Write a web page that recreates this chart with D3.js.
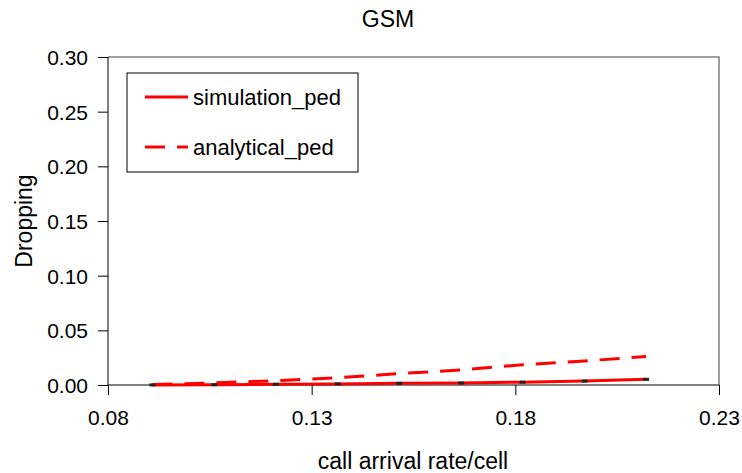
<!DOCTYPE html>
<html>
<head>
<meta charset="utf-8">
<script src="https://cdn.jsdelivr.net/npm/d3@7"></script>
<style>
  body { margin: 0; background: #fff; }
  text { font-family: "Liberation Sans", Arial, sans-serif; fill: #000; }
</style>
</head>
<body>
<script>
// call arrival rate per cell (x values)
var rates = [0.0909, 0.1061, 0.1212, 0.1364, 0.1515, 0.1667, 0.1818, 0.1970, 0.2121];
var simulationPed = [0.0001, 0.0003, 0.0006, 0.0010, 0.0015, 0.0018, 0.0026, 0.0036, 0.0052];
var analyticalPed = [0.0005, 0.0019, 0.0040, 0.0066, 0.0104, 0.0138, 0.0185, 0.0220, 0.0260];
var xTicks = [0.08, 0.13, 0.18, 0.23];
var yTicks = [0, 0.05, 0.10, 0.15, 0.20, 0.25, 0.30];

var margin = {left: 108, right: 23, top: 57, bottom: 88};
var width = 742 - margin.left - margin.right;
var height = 473 - margin.top - margin.bottom;

var svg = d3.select("body")
  .append("svg")
  .attr("width", 742)
  .attr("height", 473);

var g = svg.append("g")
  .attr("transform", "translate(" + margin.left + "," + margin.top + ")");

var x = d3.scaleLinear().domain([0.08, 0.23]).range([0, width]);
var y = d3.scaleLinear().domain([0, 0.30]).range([height, 0]);

// plot frame (top/right)
g.append("path")
  .attr("d", "M0,0H" + width + "V" + height)
  .attr("fill", "none")
  .attr("stroke", "#808080")
  .attr("stroke-width", 1.5);

var xAxis = g.append("g")
  .attr("transform", "translate(0," + height + ")")
  .call(d3.axisBottom(x).tickValues(xTicks).tickSize(10).tickFormat(d3.format(".2f")));
xAxis.selectAll("text").attr("font-size", "21px").attr("dy", "1.3em");

var yAxis = g.append("g")
  .call(d3.axisLeft(y).tickValues(yTicks).tickSize(10).tickPadding(10).tickFormat(d3.format(".2f")));
yAxis.selectAll("text").attr("font-size", "21px").attr("dy", "0.36em");

g.selectAll(".domain").attr("stroke", "#000");
g.selectAll(".tick line").attr("stroke", "#000");
xAxis.select(".domain").attr("d", "M0,0H" + width);
yAxis.select(".domain").attr("d", "M0," + height + "V0");

var line = d3.line()
  .x(function(d, i) { return x(rates[i]); })
  .y(function(d) { return y(d); });

g.append("path")
  .datum(analyticalPed)
  .attr("d", line)
  .attr("fill", "none")
  .attr("stroke", "#ff0000")
  .attr("stroke-width", 3)
  .attr("stroke-dasharray", "20,12");

g.append("path")
  .datum(simulationPed)
  .attr("d", line)
  .attr("fill", "none")
  .attr("stroke", "#ff0000")
  .attr("stroke-width", 3);

// small black markers on simulation points
g.selectAll(".mark")
  .data(simulationPed)
  .enter()
  .append("rect")
  .attr("class", "mark")
  .attr("x", function(d, i) { return x(rates[i]) - 3; })
  .attr("y", function(d) { return y(d) - 1.5; })
  .attr("width", 6)
  .attr("height", 3)
  .attr("fill", "#222");

// title and axis labels
svg.append("text")
  .attr("x", 388)
  .attr("y", 27)
  .attr("text-anchor", "middle")
  .attr("font-size", "23px")
  .text("GSM");

svg.append("text")
  .attr("x", 413)
  .attr("y", 469)
  .attr("text-anchor", "middle")
  .attr("font-size", "23px")
  .text("call arrival rate/cell");

svg.append("text")
  .attr("transform", "translate(32," + (margin.top + height / 2) + ") rotate(-90)")
  .attr("text-anchor", "middle")
  .attr("font-size", "23px")
  .text("Dropping");

// legend
var legend = svg.append("g").attr("transform", "translate(127,73)");
legend.append("rect")
  .attr("width", 231)
  .attr("height", 99)
  .attr("fill", "#fff")
  .attr("stroke", "#000")
  .attr("stroke-width", 1);

var legendItems = [
  {label: "simulation_ped", dash: null},
  {label: "analytical_ped", dash: "20,12"}
];
legendItems.forEach(function(item, i) {
  legend.append("line")
    .attr("x1", 18).attr("x2", 61)
    .attr("y1", 24 + i * 50).attr("y2", 24 + i * 50)
    .attr("stroke", "#ff0000")
    .attr("stroke-width", 3)
    .attr("stroke-dasharray", item.dash);
  legend.append("text")
    .attr("x", 66)
    .attr("y", 32 + i * 50)
    .attr("font-size", "22px")
    .text(item.label);
});
</script>
</body>
</html>
